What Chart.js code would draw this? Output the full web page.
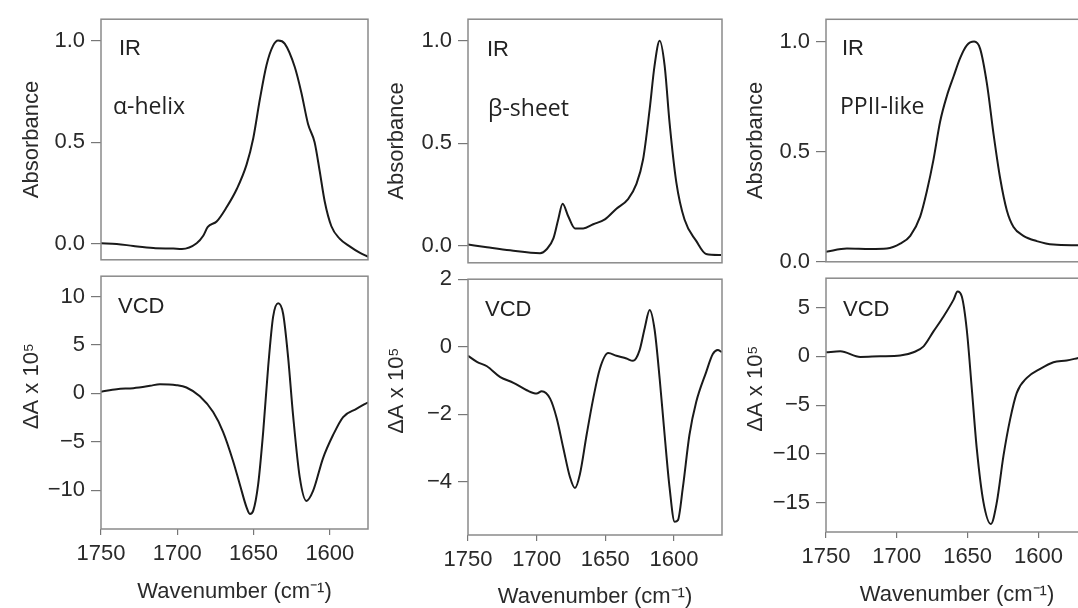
<!DOCTYPE html>
<html>
<head>
<meta charset="utf-8">
<script src="https://cdn.jsdelivr.net/npm/chart.js@4.4.1/dist/chart.umd.min.js"></script>
<style>
  html, body { margin: 0; padding: 0; background: #fff; width: 1078px; height: 608px; overflow: hidden; position: relative; }
  canvas { position: absolute; }
</style>
</head>
<body>
<script>
// --- readings taken off the figure (wavenumber in cm-1) ---
const helixIrWn = [1750, 1739.7, 1728.8, 1715.7, 1702.6, 1697, 1687.3, 1683, 1680, 1674.2, 1667.7, 1661, 1654.6, 1650.2, 1645.9, 1641.5, 1637.2, 1633.9, 1629.6, 1623, 1618.7, 1614.3, 1610, 1606.7, 1603.4, 1599, 1593.6, 1587, 1580.5, 1575];
const helixIrAbs = [0.003, 0.0, -0.01, -0.02, -0.023, -0.025, 0.003, 0.04, 0.084, 0.11, 0.18, 0.27, 0.39, 0.52, 0.71, 0.88, 0.975, 1.0, 0.985, 0.87, 0.745, 0.59, 0.5, 0.36, 0.21, 0.087, 0.026, -0.012, -0.043, -0.063];

const helixVcdWn = [1750, 1739.7, 1728.8, 1717.9, 1711.4, 1700.5, 1694, 1685.2, 1676.5, 1670, 1663.4, 1659, 1654.6, 1652.4, 1650.2, 1647, 1643.7, 1640.4, 1637.2, 1633.9, 1630.6, 1627.4, 1624.1, 1619.7, 1615.4, 1611, 1604.5, 1597.9, 1591.3, 1582.6, 1575];
const helixVcdVal = [0.17, 0.44, 0.54, 0.78, 0.95, 0.85, 0.61, -0.3, -1.93, -3.97, -7.0, -9.4, -11.76, -12.44, -12.1, -9.4, -3.97, 2.8, 7.9, 9.3, 8.2, 3.8, -2.27, -8.7, -11.1, -10.07, -6.7, -4.3, -2.44, -1.6, -0.92];

const sheetIrWn = [1750, 1736.2, 1719.3, 1697.5, 1692.7, 1687.8, 1684.2, 1681.1, 1677, 1672.1, 1666.1, 1658.8, 1650.3, 1641.9, 1633.4, 1627.4, 1622.5, 1617.7, 1614.1, 1610.4, 1606.8, 1603.2, 1598.3, 1592.3, 1583.8, 1576.6, 1565.7];
const sheetIrAbs = [0.005, -0.008, -0.023, -0.037, -0.018, 0.035, 0.13, 0.204, 0.143, 0.084, 0.084, 0.104, 0.128, 0.18, 0.227, 0.3, 0.42, 0.665, 0.88, 1.0, 0.88, 0.6, 0.31, 0.127, 0.023, -0.041, -0.046];

const sheetVcdWn = [1750, 1743.5, 1736.2, 1726.5, 1716.9, 1707.2, 1700, 1696.3, 1690.2, 1685.4, 1680.6, 1675.7, 1672.1, 1668.5, 1663.6, 1658.8, 1654, 1647.9, 1641.9, 1634.6, 1629.8, 1625, 1621.3, 1617.7, 1614.1, 1610.4, 1606.8, 1603.2, 1599.5, 1597.1, 1593.5, 1588.7, 1583.8, 1576.6, 1571.7, 1568.1, 1565.2];
const sheetVcdVal = [-0.27, -0.45, -0.58, -0.9, -1.07, -1.29, -1.39, -1.32, -1.54, -2.12, -3.0, -3.87, -4.19, -3.78, -2.61, -1.54, -0.66, -0.19, -0.27, -0.35, -0.42, -0.1, 0.55, 1.09, 0.51, -0.95, -2.61, -4.17, -5.19, -5.14, -4.17, -2.61, -1.64, -0.76, -0.22, -0.1, -0.16];

const ppIrWn = [1750, 1735.2, 1718.7, 1707, 1697.6, 1690.5, 1683.5, 1678.8, 1674.1, 1669.4, 1664.7, 1660, 1655.3, 1650.6, 1645.4, 1641.2, 1636.4, 1631.7, 1627, 1622.3, 1617.6, 1610.6, 1601.2, 1589.4, 1572];
const ppIrAbs = [0.046, 0.06, 0.058, 0.06, 0.082, 0.118, 0.205, 0.32, 0.464, 0.637, 0.752, 0.84, 0.925, 0.983, 1.0, 0.968, 0.81, 0.58, 0.378, 0.233, 0.158, 0.118, 0.094, 0.078, 0.075];

const ppVcdWn = [1750, 1739.9, 1725.8, 1711.7, 1697.6, 1688.2, 1681.1, 1674.1, 1667, 1660, 1657.1, 1654.1, 1650.6, 1647, 1643.5, 1638.8, 1633.6, 1629.4, 1624.7, 1620, 1615.3, 1608.2, 1598.8, 1589.4, 1580, 1572];
const ppVcdVal = [0.41, 0.51, -0.07, 0, 0.07, 0.41, 1.02, 2.55, 4.08, 5.78, 6.63, 6.12, 2.72, -3.4, -9.52, -14.97, -17.18, -14.97, -10.2, -6.46, -3.74, -2.21, -1.29, -0.61, -0.44, -0.17];

// tick labels
const xTicks = [1750, 1700, 1650, 1600];
const irTicks = [0, 0.5, 1.0];
const helixVcdTicks = [-10, -5, 0, 5, 10];
const sheetVcdTicks = [-4, -2, 0, 2];
const ppVcdTicks = [-15, -10, -5, 0, 5];

const structNames = ['\u03b1-helix', '\u03b2-sheet', 'PPII-like'];

const sansFont = '"Liberation Sans", Arial, Helvetica, sans-serif';
const tagFont = '22px ' + sansFont;
const nameFont = '23px "Open Sans", "Noto Sans", sans-serif';

// draws the frame round each panel and the little in-panel labels
const panelDeco = {
  id: 'panelDeco',
  afterDatasetsDraw(chart, args, opts) {
    const { ctx, chartArea: a } = chart;
    ctx.save();
    ctx.strokeStyle = '#8a8a8a';
    ctx.lineWidth = 1.5;
    ctx.strokeRect(a.left, a.top, a.right - a.left, a.bottom - a.top);
    ctx.fillStyle = '#222';
    ctx.textBaseline = 'middle';
    ctx.textAlign = 'left';
    (opts.tags || []).forEach(function (t) {
      ctx.font = t.font;
      ctx.fillText(t.text, a.left + t.dx, a.top + t.dy);
    });
    ctx.restore();
  }
};
Chart.register(panelDeco);

function toPoints(xs, ys) {
  return xs.map((x, i) => ({ x: x, y: ys[i] }));
}

function fmtSigned(v) {
  return v < 0 ? '\u2212' + Math.abs(v) : String(v);
}

function addCanvas(x, y, w, h) {
  const c = document.createElement('canvas');
  c.width = w; c.height = h;
  c.style.left = x + 'px'; c.style.top = y + 'px';
  c.style.width = w + 'px'; c.style.height = h + 'px';
  document.body.appendChild(c);
  return c;
}

function panel(p) {
  const canvas = addCanvas(p.cx, p.cy, p.cw, p.ch);
  return new Chart(canvas, {
    type: 'line',
    data: {
      datasets: [{
        data: p.points,
        borderColor: '#1a1a1a',
        borderWidth: 2,
        pointRadius: 0,
        cubicInterpolationMode: 'monotone',
        fill: false
      }]
    },
    options: {
      responsive: false,
      animation: false,
      events: [],
      layout: { padding: p.padding },
      plugins: {
        legend: { display: false },
        tooltip: { enabled: false },
        panelDeco: { tags: p.tags }
      },
      scales: {
        x: {
          type: 'linear',
          reverse: true,
          min: p.xMin,
          max: 1750,
          display: p.showX,
          afterFit: function (s) { s.height = p.xAxisH; },
          afterBuildTicks: function (s) { s.ticks = xTicks.map(v => ({ value: v })); },
          grid: { drawOnChartArea: false, tickLength: 6, color: '#777', lineWidth: 1.2 },
          border: { display: false },
          ticks: {
            color: '#2a2a2a', padding: 6, autoSkip: false, maxRotation: 0,
            font: { family: sansFont, size: 22 },
            callback: v => String(v)
          },
          title: {
            display: true, text: 'Wavenumber (cm\u207b\u00b9)', color: '#2a2a2a',
            font: { family: sansFont, size: 22 }, padding: { top: 0, bottom: 0 }
          }
        },
        y: {
          min: p.yMin,
          max: p.yMax,
          afterFit: function (s) { s.width = p.yAxisW; },
          afterBuildTicks: function (s) { s.ticks = p.yTicks.map(v => ({ value: v })); },
          grid: { drawOnChartArea: false, tickLength: 10, color: '#777', lineWidth: 1.2 },
          border: { display: false },
          ticks: {
            color: '#2a2a2a', padding: 6,
            font: { family: sansFont, size: 22 },
            callback: p.yFmt
          },
          title: {
            display: true, text: p.yTitle, color: '#2a2a2a',
            font: { family: sansFont, size: 22 }, padding: { top: p.yTitlePad, bottom: 0 }
          }
        }
      }
    }
  });
}

// column geometry (page pixels)
const cols = [
  { cx: 0,   cw: 372, l: 101, r: 368,  t: 15,   mid: 272.5, b: 529, titleY: 592,   yAxisW: 101, yTitlePad: 18.5, xMin: 1575 },
  { cx: 372, cw: 352, l: 468, r: 722,  t: 18,   mid: 276,   b: 535, titleY: 596.7, yAxisW: 96,  yTitlePad: 11.8, xMin: 1565 },
  { cx: 724, cw: 376, l: 826, r: 1088, t: 19.3, mid: 274.5, b: 532, titleY: 595,   yAxisW: 102, yTitlePad: 18.3, xMin: 1565 }
];

const irSeries = [toPoints(helixIrWn, helixIrAbs), toPoints(sheetIrWn, sheetIrAbs), toPoints(ppIrWn, ppIrAbs)];
const vcdSeries = [toPoints(helixVcdWn, helixVcdVal), toPoints(sheetVcdWn, sheetVcdVal), toPoints(ppVcdWn, ppVcdVal)];
const irRanges = [[-0.078, 1.105], [-0.084, 1.105], [0, 1.101]];
const vcdRanges = [[-14, 12.1], [-5.58, 2], [-18, 8]];
const vcdTicks = [helixVcdTicks, sheetVcdTicks, ppVcdTicks];
const irTagPos = [[18, 30, 12, 88], [19, 31, 20, 90], [16, 30, 14, 88]];
const vcdTagPos = [[17, 30.5], [17, 30.7], [17, 31.5]];

cols.forEach(function (c, i) {
  const rightPad = c.cx + c.cw - c.r;
  // upper panel: IR absorbance
  panel({
    cx: c.cx, cy: 0, cw: c.cw, ch: Math.round(c.mid + 6),
    padding: { top: c.t, left: 0, right: rightPad, bottom: Math.round(c.mid + 6) - c.mid },
    points: irSeries[i], xMin: c.xMin, showX: false, xAxisH: 0,
    yMin: irRanges[i][0], yMax: irRanges[i][1], yTicks: irTicks,
    yFmt: v => v.toFixed(1), yAxisW: c.yAxisW, yTitle: 'Absorbance', yTitlePad: c.yTitlePad,
    tags: [
      { text: 'IR', font: tagFont, dx: irTagPos[i][0], dy: irTagPos[i][1] },
      { text: structNames[i], font: nameFont, dx: irTagPos[i][2], dy: irTagPos[i][3] }
    ]
  });
  // lower panel: VCD
  const cy = Math.round(c.mid - 16);
  const ch = Math.round(c.titleY + 13.2 - cy);
  panel({
    cx: c.cx, cy: cy, cw: c.cw, ch: ch,
    padding: { top: c.mid - cy, left: 0, right: rightPad, bottom: 0 },
    points: vcdSeries[i], xMin: c.xMin, showX: true, xAxisH: cy + ch - c.b,
    yMin: vcdRanges[i][0], yMax: vcdRanges[i][1], yTicks: vcdTicks[i],
    yFmt: fmtSigned, yAxisW: c.yAxisW, yTitle: '\u2003\u2002\u0394A x 10\u2075', yTitlePad: c.yTitlePad,
    tags: [{ text: 'VCD', font: tagFont, dx: vcdTagPos[i][0], dy: vcdTagPos[i][1] }]
  });
});
</script>
</body>
</html>
